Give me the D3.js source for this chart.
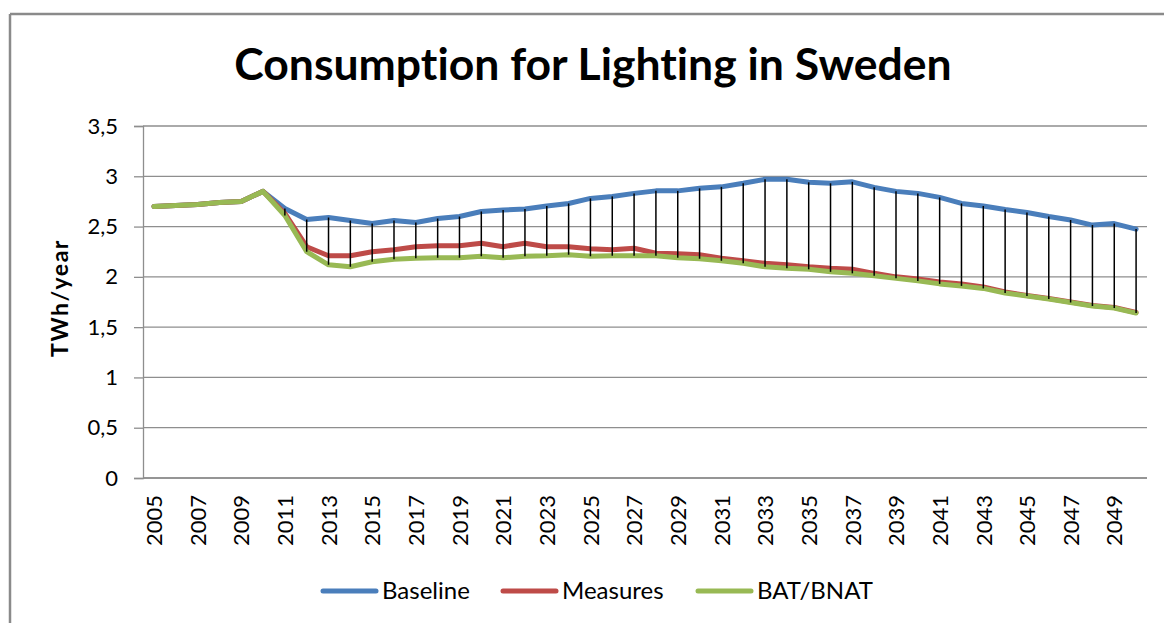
<!DOCTYPE html>
<html>
<head>
<meta charset="utf-8">
<script src="https://cdn.jsdelivr.net/npm/d3@7"></script>
<style>
  body { margin: 0; background: #fff; }
  svg text { font-family: Lato, "Open Sans", sans-serif; fill: #000; font-variant-ligatures: none; }
</style>
</head>
<body>
<svg id="chart" width="1164" height="623"></svg>
<script>
// categories
var years = [2005, 2006, 2007, 2008, 2009, 2010, 2011, 2012, 2013, 2014,
             2015, 2016, 2017, 2018, 2019, 2020, 2021, 2022, 2023, 2024,
             2025, 2026, 2027, 2028, 2029, 2030, 2031, 2032, 2033, 2034,
             2035, 2036, 2037, 2038, 2039, 2040, 2041, 2042, 2043, 2044,
             2045, 2046, 2047, 2048, 2049, 2050];

// TWh/year
var baseline = [2.70, 2.71, 2.72, 2.74, 2.75, 2.85, 2.68, 2.57, 2.59, 2.56,
                2.53, 2.56, 2.54, 2.58, 2.60, 2.65, 2.665, 2.675, 2.705, 2.73,
                2.78, 2.80, 2.83, 2.855, 2.855, 2.88, 2.895, 2.93, 2.97, 2.97,
                2.94, 2.93, 2.945, 2.89, 2.85, 2.83, 2.79, 2.73, 2.705, 2.67,
                2.64, 2.60, 2.565, 2.515, 2.53, 2.475];
var measures = [2.70, 2.71, 2.72, 2.74, 2.75, 2.85, 2.63, 2.30, 2.21, 2.21,
                2.25, 2.27, 2.30, 2.31, 2.31, 2.335, 2.30, 2.335, 2.30, 2.30,
                2.28, 2.27, 2.285, 2.235, 2.23, 2.22, 2.185, 2.16, 2.135, 2.12,
                2.10, 2.085, 2.075, 2.035, 2.00, 1.98, 1.95, 1.93, 1.90, 1.85,
                1.815, 1.785, 1.75, 1.715, 1.695, 1.645];
var batBnat = [2.70, 2.71, 2.72, 2.74, 2.75, 2.85, 2.61, 2.25, 2.12, 2.10,
               2.15, 2.175, 2.185, 2.19, 2.19, 2.205, 2.19, 2.205, 2.21, 2.22,
               2.205, 2.21, 2.21, 2.21, 2.19, 2.18, 2.16, 2.135, 2.10, 2.085,
               2.075, 2.05, 2.035, 2.01, 1.985, 1.96, 1.93, 1.91, 1.885, 1.84,
               1.81, 1.78, 1.745, 1.71, 1.69, 1.64];

var yTicks = [0, 0.5, 1, 1.5, 2, 2.5, 3, 3.5];
var seriesNames = ["Baseline", "Measures", "BAT/BNAT"];
var seriesColors = ["#4a7ebb", "#be4b48", "#98b954"];

var svg = d3.select("#chart");

// outer chart frame (only top and left edges visible)
svg.append("line").attr("x1", 10).attr("y1", 14).attr("x2", 1164).attr("y2", 14)
    .attr("stroke", "#8a8a8a").attr("stroke-width", 2.5);
svg.append("line").attr("x1", 10).attr("y1", 14).attr("x2", 10).attr("y2", 623)
    .attr("stroke", "#8a8a8a").attr("stroke-width", 2.5);

var plotLeft = 143, plotRight = 1147, plotTop = 126, plotBottom = 478;

var x = d3.scalePoint().domain(years).range([plotLeft, plotRight]).padding(0.5);
var y = d3.scaleLinear().domain([0, 3.5]).range([plotBottom, plotTop]);

// title
svg.append("text")
    .attr("x", 593).attr("y", 80)
    .attr("text-anchor", "middle")
    .style("font-size", "44.5px").style("font-weight", "bold")
    .text("Consumption for Lighting in Sweden");

// gridlines
svg.append("g").selectAll("line")
    .data(yTicks)
    .enter().append("line")
    .attr("x1", plotLeft).attr("x2", plotRight)
    .attr("y1", function (d) { return y(d); })
    .attr("y2", function (d) { return y(d); })
    .attr("stroke", "#8e8e8e").attr("stroke-width", 1.3);

// y axis
var yAxis = d3.axisLeft(y)
    .tickValues(yTicks)
    .tickSize(9)
    .tickPadding(16)
    .tickFormat(function (d) { return String(d).replace(".", ","); });
var gy = svg.append("g").attr("transform", "translate(" + plotLeft + ",0)").call(yAxis);
gy.select(".domain").attr("stroke", "#8e8e8e").attr("stroke-width", 1.3);
gy.selectAll(".tick line").attr("stroke", "#8e8e8e").attr("stroke-width", 1.3);
gy.selectAll(".tick text").style("font-size", "22px").style("font-family", "Lato, sans-serif").attr("fill", "#000");

svg.append("text")
    .attr("transform", "translate(68,298) rotate(-90)")
    .attr("text-anchor", "middle")
    .style("font-size", "23px").style("font-weight", "bold").style("letter-spacing", "1.5px")
    .text("TWh/year");

// x axis
var xAxis = d3.axisBottom(x)
    .tickValues(years.filter(function (d, i) { return i % 2 === 0; }))
    .tickSize(0)
    .tickPadding(0);
var gx = svg.append("g").attr("transform", "translate(0," + plotBottom + ")").call(xAxis);
gx.select(".domain").attr("d", "M" + plotLeft + ",0H" + plotRight)
    .attr("stroke", "#8e8e8e").attr("stroke-width", 1.3);
gx.selectAll(".tick text")
    .attr("transform", "rotate(-90)")
    .attr("x", -17).attr("y", 0).attr("dy", "0.35em")
    .attr("text-anchor", "end")
    .style("font-size", "22px").style("font-family", "Lato, sans-serif").attr("fill", "#000");

// series lines
var allSeries = [baseline, measures, batBnat];
var line = d3.line()
    .x(function (d, i) { return x(years[i]); })
    .y(function (d) { return y(d); });

svg.append("g").selectAll("path")
    .data(allSeries)
    .enter().append("path")
    .attr("d", line)
    .attr("fill", "none")
    .attr("stroke", function (d, i) { return seriesColors[i]; })
    .attr("stroke-width", 5)
    .attr("stroke-linejoin", "round")
    .attr("stroke-linecap", "round");

// high-low lines
svg.append("g").selectAll("line")
    .data(years)
    .enter().append("line")
    .attr("x1", function (d) { return x(d); })
    .attr("x2", function (d) { return x(d); })
    .attr("y1", function (d, i) { return y(d3.max([baseline[i], measures[i], batBnat[i]])); })
    .attr("y2", function (d, i) { return y(d3.min([baseline[i], measures[i], batBnat[i]])); })
    .attr("stroke", "#000").attr("stroke-width", 1.5);

// legend
var legendX = [323, 503, 698];
var lg = svg.append("g").selectAll("g")
    .data(seriesNames)
    .enter().append("g")
    .attr("transform", function (d, i) { return "translate(" + legendX[i] + ",591)"; });
lg.append("line")
    .attr("x1", 0).attr("x2", 53).attr("y1", 0).attr("y2", 0)
    .attr("stroke", function (d, i) { return seriesColors[i]; })
    .attr("stroke-width", 5).attr("stroke-linecap", "round");
lg.append("text")
    .attr("x", 59).attr("y", 0).attr("dy", "0.35em")
    .style("font-size", "24px")
    .text(function (d) { return d; });
</script>
</body>
</html>
